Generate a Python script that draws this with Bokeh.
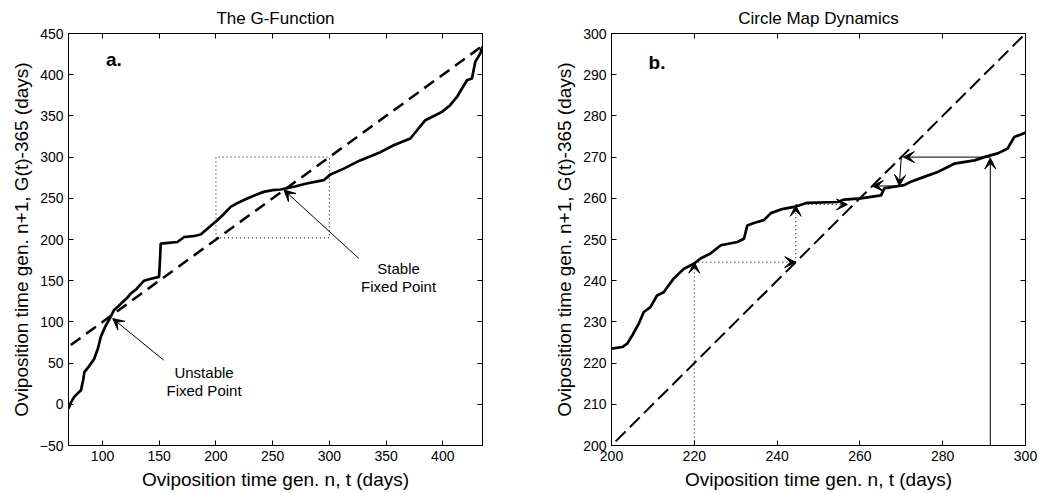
from bokeh.plotting import figure
from bokeh.layouts import row
from bokeh.models import Arrow, VeeHead, LinearAxis, Range1d, FixedTicker, Label
from bokeh.embed import file_html
from bokeh.resources import INLINE

# ---------------- data ----------------
# panel a: G-function, t -> G(t)-365
g_t = [70, 72, 75, 78, 81, 83, 84, 88, 92.6, 96, 98.5, 101, 103, 106, 110, 114, 117.6, 121, 125,
       130, 136.6, 142, 149.8, 150.5, 151.3, 158, 166, 172, 180, 186.5, 192.4, 201.2, 207, 213,
       220, 227.6, 235, 242, 250, 257, 268.7, 280, 295, 301, 312.7, 327, 345, 356.7, 371.4,
       377.3, 384.6, 393.4, 399.3, 406.5, 412.5, 416.9, 421.3, 425.7, 428.6, 433, 435]
g_val = [-5, 2, 9, 13, 17, 30, 39, 46, 55, 68, 82, 90, 96, 103, 114, 119, 124, 128, 134.5,
         140, 150, 152, 154.6, 170, 195, 196, 197, 203, 204, 206, 213, 223.4, 231, 239.6,
         245, 249.8, 254, 257.8, 260, 260.7, 264, 268, 272, 279, 286, 296, 306, 314.4, 322.6,
         332.6, 344.8, 350.8, 354.9, 363, 373, 383.3, 393.3, 395.4, 415.5, 425.7, 434]
diag_a = [72, 435]
box_x = [200, 300, 300, 200, 200]
box_y = [202, 202, 300, 300, 202]
stable_pt = (260, 260)
stable_tail = (326, 177)
unstable_pt = (109, 104)
unstable_tail = (154, 53.5)

# panel b: circle map (zoom of G on 200..300)
c_t = [200, 202.6, 203.8, 205, 206.6, 207.8, 209.4, 211, 212.6, 215, 217.5, 219.9, 221.5,
       223.9, 226.4, 230.4, 232, 232.8, 234.4, 236.8, 238.5, 240.9, 244.1, 247.3, 254.6,
       256.2, 260.2, 265.1, 265.9, 268.3, 270.7, 272.3, 275.5, 278.8, 282.8, 287.7, 290,
       293.3, 295.7, 297.3, 298.9, 300]
c_val = [223.5, 223.9, 224.7, 226.7, 229.6, 232.4, 233.6, 236.4, 237.2, 240.5, 242.9, 244.1,
         245.4, 246.6, 248.6, 249.4, 250.2, 253.4, 254, 254.7, 256.4, 257.3, 257.9, 258.9,
         259.1, 259.7, 260, 260.7, 262.4, 262.8, 263.2, 264, 265.2, 266.4, 268.4, 269.2, 270,
         270.9, 272.1, 274.9, 275.5, 276]
diag_b = [201, 300]
# cobweb from t=220 (dotted) and from t=291.5 (solid): segments (x0, y0, x1, y1)
cob_dotted = [(220, 200, 220, 244.5), (220, 244.5, 244.5, 244.5),
              (244.5, 244.5, 244.5, 258.3), (244.5, 258.5, 257, 258.5)]
cob_solid = [(291.5, 200, 291.5, 269.8), (291.5, 270, 270.5, 270),
             (270, 270, 269.5, 263), (269.5, 263, 263, 263)]

x_ticks_a = [100, 150, 200, 250, 300, 350, 400]
y_ticks_a = [-50, 0, 50, 100, 150, 200, 250, 300, 350, 400, 450]
x_ticks_b = [200, 220, 240, 260, 280, 300]
y_ticks_b = [200, 210, 220, 230, 240, 250, 260, 270, 280, 290, 300]

FONT = "Liberation Sans"
XLABEL = "Oviposition time gen. n, t (days)"
YLABEL = "Oviposition time gen. n+1, G(t)-365 (days)"


def style(p, xt, yt, title):
    p.outline_line_color = "black"
    p.outline_line_width = 1
    p.xgrid.visible = False
    p.ygrid.visible = False
    p.background_fill_color = "white"
    p.border_fill_color = "white"
    p.title.text = title
    p.title.align = "center"
    p.title.text_font = FONT
    p.title.text_font_size = "17px"
    p.title.text_font_style = "normal"
    p.title.text_color = "black"
    p.title.standoff = 11
    for ax in (p.xaxis[0], p.yaxis[0]):
        ax.major_tick_in = 5
        ax.major_tick_out = 0
        ax.minor_tick_line_color = None
        ax.axis_line_color = "black"
        ax.major_tick_line_color = "black"
        ax.major_label_text_font = FONT
        ax.major_label_text_font_size = "14px"
        ax.major_label_text_color = "black"
        ax.axis_label_text_font = FONT
        ax.axis_label_text_font_size = "19px"
        ax.axis_label_text_font_style = "normal"
        ax.axis_label_text_color = "black"
        ax.major_label_standoff = 5
        ax.axis_label_standoff = 5
    p.xaxis[0].ticker = FixedTicker(ticks=xt)
    p.yaxis[0].ticker = FixedTicker(ticks=yt)
    p.xaxis[0].axis_label = XLABEL
    p.yaxis[0].axis_label = YLABEL
    for loc, ticks in (("right", yt), ("above", xt)):
        ax = LinearAxis(ticker=FixedTicker(ticks=ticks))
        ax.major_tick_in = 5
        ax.major_tick_out = 0
        ax.minor_tick_line_color = None
        ax.major_label_text_color = None
        ax.major_label_text_font_size = "1px"
        ax.major_label_standoff = 0
        ax.axis_line_color = "black"
        ax.major_tick_line_color = "black"
        p.add_layout(ax, loc)


def arrow(p, x0, y0, x1, y1, dash="solid", width=1, size=11):
    p.add_layout(Arrow(end=VeeHead(size=size, fill_color="black", line_color="black", line_width=1),
                       x_start=x0, y_start=y0, x_end=x1, y_end=y1,
                       line_color="black", line_width=width, line_dash=dash))


def label(p, x, y, txt, size="15px", style_="normal"):
    p.add_layout(Label(x=x, y=y, text=txt, text_font=FONT, text_font_size=size,
                       text_font_style=style_, text_color="black",
                       text_align="center", text_baseline="middle"))


# ---------------- panel a ----------------
p1 = figure(width=520, height=493, x_range=Range1d(70, 435), y_range=Range1d(-50, 450),
            output_backend="svg", toolbar_location=None,
            min_border_left=68, min_border_right=38, min_border_top=33, min_border_bottom=48)
style(p1, x_ticks_a, y_ticks_a, "The G-Function")
p1.line(box_x, box_y, line_color="black", line_width=1, line_dash="1 3")
p1.line(diag_a, diag_a, line_color="black", line_width=2.5, line_dash="12 7")
p1.line(g_t, g_val, line_color="black", line_width=2.7)
arrow(p1, stable_tail[0], stable_tail[1], stable_pt[0], stable_pt[1])
arrow(p1, unstable_tail[0], unstable_tail[1], unstable_pt[0], unstable_pt[1])
label(p1, 110, 418, "a.", "19px", "bold")
label(p1, 361, 165, "Stable")
label(p1, 361, 143, "Fixed Point")
label(p1, 189.5, 39, "Unstable")
label(p1, 189.5, 17, "Fixed Point")

# ---------------- panel b ----------------
p2 = figure(width=522, height=493, x_range=Range1d(200, 300), y_range=Range1d(200, 300),
            output_backend="svg", toolbar_location=None,
            min_border_left=91, min_border_right=17, min_border_top=33, min_border_bottom=48)
style(p2, x_ticks_b, y_ticks_b, "Circle Map Dynamics")
p2.line(diag_b, diag_b, line_color="black", line_width=2, line_dash="14 6")
p2.line(c_t, c_val, line_color="black", line_width=2.7)
for (x0, y0, x1, y1) in cob_dotted:
    arrow(p2, x0, y0, x1, y1, dash="1 3")
for (x0, y0, x1, y1) in cob_solid:
    arrow(p2, x0, y0, x1, y1)
label(p2, 211, 293, "b.", "19px", "bold")

layout = row(p1, p2)
open("out.html", "w").write(file_html(layout, INLINE))
